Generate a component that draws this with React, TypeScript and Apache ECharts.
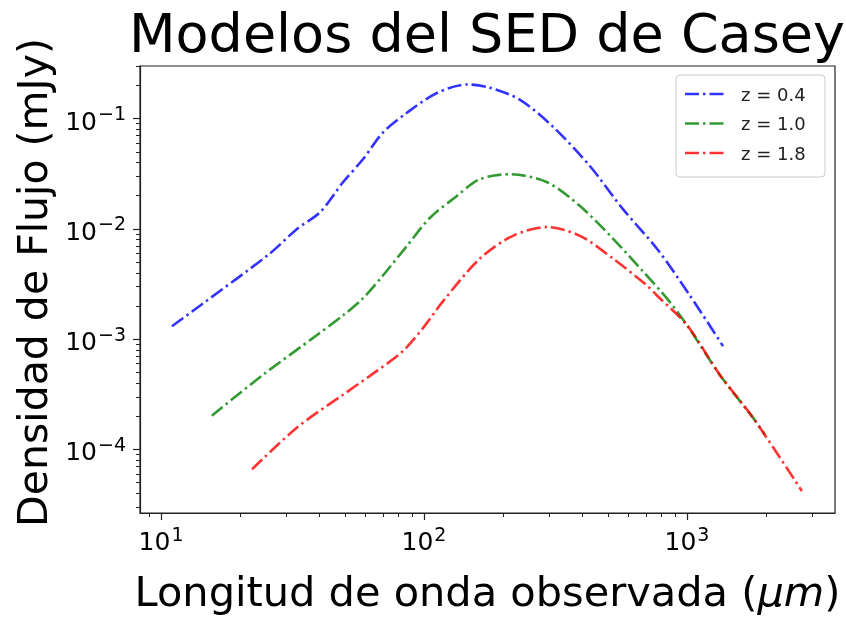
import React, { useEffect, useRef } from "react";
import * as echarts from "echarts";

// Wavelength (µm) and flux density (mJy)
const blueLambda = [11.0, 14.1, 25.9, 32.9, 40.3, 49.2, 58.6, 69.8, 86.1, 112, 146, 178, 232, 309, 428, 571, 769, 1026, 1371];
const blueFlux = [1.31e-3, 2.02e-3, 5.96e-3, 1.0e-2, 1.42e-2, 2.65e-2, 4.28e-2, 7.48e-2, 0.113, 0.171, 0.204, 0.191, 0.148, 0.0847, 0.037, 0.0151, 6.61e-3, 2.49e-3, 8.65e-4];

const greenLambda = [15.6, 24.4, 39.2, 49.2, 58.6, 69.8, 86.1, 105, 133, 163, 212, 294, 392, 524, 681, 839, 1000, 1334, 1782, 1982];
const greenFlux = [2.02e-4, 4.74e-4, 1.09e-3, 1.64e-3, 2.34e-3, 3.78e-3, 7.0e-3, 0.0125, 0.0198, 0.0282, 0.0313, 0.0265, 0.0161, 8.13e-3, 4.1e-3, 2.34e-3, 1.34e-3, 4.74e-4, 1.94e-4, 1.36e-4];

const redLambda = [22.2, 32.9, 49.2, 66.2, 83.2, 99.1, 118, 163, 218, 294, 392, 524, 705, 769, 1000, 1334, 1782, 2735];
const redFlux = [6.61e-5, 1.58e-4, 3.13e-4, 5.15e-4, 7.8e-4, 1.26e-3, 2.2e-3, 5.37e-3, 8.65e-3, 0.0104, 8.65e-3, 5.37e-3, 3.06e-3, 2.49e-3, 1.34e-3, 4.74e-4, 1.94e-4, 4.19e-5];

const seriesNames = ["z = 0.4", "z = 1.0", "z = 1.8"];
const seriesColors = ["rgba(0,0,255,0.8)", "rgba(0,128,0,0.8)", "rgba(255,0,0,0.8)"];

const xMajorExp = [1, 2, 3];
const yMajorExp = [-1, -2, -3, -4];

const xMin = 0.92;
const xMax = 3.563;
const yMin = -4.577;
const yMax = -0.5225;

const FONT = "DejaVu Sans";

function minorTicks(lo: number, hi: number): number[] {
  const out: number[] = [];
  for (let e = Math.floor(lo) - 1; e <= Math.ceil(hi); e++) {
    for (let k = 2; k <= 9; k++) {
      const v = e + Math.log10(k);
      if (v >= lo && v <= hi) out.push(v);
    }
  }
  return out;
}

function toPairs(lam: number[], flux: number[]) {
  return lam.map((l, i) => [Math.log10(l), Math.log10(flux[i])]);
}

export default function App() {
  const ref = useRef<HTMLDivElement>(null);
  useEffect(() => {
    if (!ref.current) return;
    const chart = echarts.init(ref.current, null, { renderer: "svg" });
    const rich = {
      b: { fontFamily: FONT, fontSize: 25, color: "#000", verticalAlign: "bottom", lineHeight: 30 },
      s: { fontFamily: FONT, fontSize: 19, color: "#000", verticalAlign: "top", lineHeight: 30, padding: [0, 0, 11, 1] },
    };
    const lineDash = [14, 4, 2.5, 4];
    const datasets = [
      toPairs(blueLambda, blueFlux),
      toPairs(greenLambda, greenFlux),
      toPairs(redLambda, redFlux),
    ];
    const legendX = 676;
    const legendY = 75;
    const legendItems: any[] = [
      {
        type: "rect",
        shape: { x: legendX, y: legendY, width: 149, height: 102, r: 4 },
        style: { fill: "rgba(255,255,255,0.8)", stroke: "#ccc", lineWidth: 1 },
        z: 10,
      },
    ];
    seriesNames.forEach((n, i) => {
      const cy = legendY + 19 + i * 29.5;
      legendItems.push({
        type: "line",
        shape: { x1: legendX + 9, y1: cy, x2: legendX + 51, y2: cy },
        style: { stroke: seriesColors[i], lineWidth: 2.6, lineDash },
        z: 11,
      });
      legendItems.push({
        type: "text",
        x: legendX + 65,
        y: cy,
        style: {
          text: n,
          fontFamily: FONT,
          fontSize: 18,
          fill: "#222",
          textAlign: "left",
          textVerticalAlign: "middle",
        },
        z: 11,
      });
    });
    chart.setOption({
      animation: false,
      grid: {
        left: 140,
        right: 11,
        top: 66,
        bottom: 101,
        show: true,
        borderColor: "#222",
        borderWidth: 1.2,
        backgroundColor: "#fff",
      },
      graphic: [
        {
          type: "text",
          x: 487,
          y: 33,
          style: {
            text: "Modelos del SED de Casey",
            fontFamily: FONT,
            fontSize: 54,
            fill: "#000",
            textAlign: "center",
            textVerticalAlign: "middle",
          },
        },
        ...legendItems,
      ],
      xAxis: [
        {
          type: "value",
          min: xMin,
          max: xMax,
          position: "bottom",
          name: "Longitud de onda observada ({i|μm})",
          nameLocation: "middle",
          nameGap: 57,
          nameTextStyle: {
            fontFamily: FONT,
            fontSize: 41.5,
            color: "#000",
            rich: { i: { fontFamily: FONT, fontSize: 41.5, fontStyle: "italic", color: "#000" } },
          },
          axisLine: { show: true, lineStyle: { color: "#222", width: 1.2 } },
          axisTick: { show: true, customValues: xMajorExp, length: 7, lineStyle: { color: "#222", width: 1.2 } },
          axisLabel: {
            customValues: xMajorExp,
            margin: 11,
            fontFamily: FONT,
            fontSize: 25,
            color: "#000",
            formatter: (v: number) => `{b|10}{s|${Math.round(v)}}`,
            rich,
          },
          splitLine: { show: false },
        },
        {
          type: "value",
          min: xMin,
          max: xMax,
          position: "bottom",
          offset: 0,
          axisLine: { show: false },
          axisTick: { show: true, customValues: minorTicks(xMin, xMax), length: 4, lineStyle: { color: "#222", width: 1 } },
          axisLabel: { show: false },
          splitLine: { show: false },
        },
      ],
      yAxis: [
        {
          type: "value",
          min: yMin,
          max: yMax,
          position: "left",
          name: "Densidad de Flujo (mJy)",
          nameLocation: "middle",
          nameGap: 87,
          nameTextStyle: { fontFamily: FONT, fontSize: 41, color: "#000", padding: [0, 0, 0, 14] },
          axisLine: { show: true, lineStyle: { color: "#222", width: 1.2 } },
          axisTick: { show: true, customValues: yMajorExp, length: 7, lineStyle: { color: "#222", width: 1.2 } },
          axisLabel: {
            customValues: yMajorExp,
            margin: 14,
            fontFamily: FONT,
            fontSize: 25,
            color: "#000",
            formatter: (v: number) => `{b|10}{s|−${Math.abs(Math.round(v))}}`,
            rich,
          },
          splitLine: { show: false },
        },
        {
          type: "value",
          min: yMin,
          max: yMax,
          position: "left",
          offset: 0,
          axisLine: { show: false },
          axisTick: { show: true, customValues: minorTicks(yMin, yMax), length: 4, lineStyle: { color: "#222", width: 1 } },
          axisLabel: { show: false },
          splitLine: { show: false },
        },
      ],
      series: datasets.map((d, i) => ({
        type: "line",
        name: seriesNames[i],
        data: d,
        xAxisIndex: 0,
        yAxisIndex: 0,
        symbol: "none",
        smooth: 0.3,
        color: seriesColors[i],
        lineStyle: { color: seriesColors[i], width: 2.6, type: lineDash },
        z: 3 + i,
      })),
    });
    return () => chart.dispose();
  }, []);
  return <div ref={ref} style={{ position: "fixed", left: 0, top: 0, width: 846, height: 617 }} />;
}
